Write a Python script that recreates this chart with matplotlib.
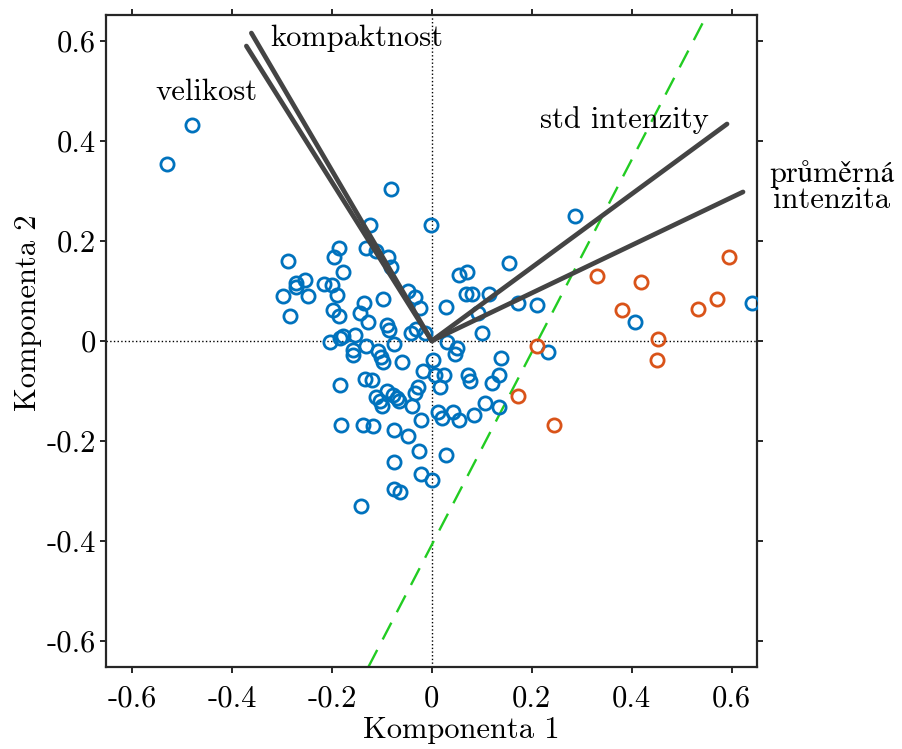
import matplotlib.pyplot as plt
import numpy as np

# PCA scores, class 1 (blue)
comp1_blue = [-0.530, -0.479, -0.082, -0.001, -0.123, -0.185, -0.195, -0.132, -0.112, -0.088,
              -0.082, -0.287, -0.177, -0.253, -0.272, -0.272, -0.215, -0.200, -0.048, -0.297,
              -0.247, -0.189, -0.283, -0.197, -0.185, -0.135, -0.098, -0.143, -0.128, -0.034,
              -0.024, -0.090, -0.085, -0.041, -0.031, -0.013, -0.203, -0.183, -0.177, -0.153,
              -0.157, -0.158, -0.131, -0.107, -0.101, -0.097, -0.075, -0.060, 0.002, -0.017,
              -0.133, -0.120, -0.184, -0.112, -0.103, -0.100, -0.090, -0.077, -0.069, -0.066,
              -0.028, -0.034, -0.040, -0.181, -0.137, -0.117, -0.075, -0.048, -0.022, -0.025,
              -0.075, -0.022, 0.001, -0.075, -0.063, -0.142, 0.055, 0.070, 0.069, 0.081,
              0.115, 0.154, 0.286, 0.029, 0.093, 0.173, 0.210, 0.100, 0.031, 0.051,
              0.047, 0.233, 0.138, 0.007, 0.025, 0.017, 0.073, 0.077, 0.135, 0.120,
              0.107, 0.135, 0.013, 0.021, 0.042, 0.055, 0.085, 0.407, 0.640, 0.028]
comp2_blue = [0.353, 0.432, 0.303, 0.232, 0.232, 0.186, 0.167, 0.185, 0.179, 0.167,
              0.147, 0.159, 0.137, 0.122, 0.115, 0.108, 0.114, 0.111, 0.100, 0.090,
              0.090, 0.091, 0.050, 0.061, 0.050, 0.075, 0.083, 0.055, 0.037, 0.088,
              0.065, 0.032, 0.022, 0.015, 0.023, 0.015, -0.003, 0.005, 0.009, 0.011,
              -0.019, -0.028, -0.011, -0.020, -0.033, -0.043, -0.007, -0.042, -0.038, -0.061,
              -0.076, -0.079, -0.088, -0.113, -0.120, -0.130, -0.101, -0.108, -0.115, -0.121,
              -0.093, -0.105, -0.130, -0.168, -0.168, -0.171, -0.179, -0.191, -0.159, -0.221,
              -0.243, -0.266, -0.278, -0.297, -0.303, -0.331, 0.132, 0.137, 0.094, 0.094,
              0.094, 0.155, 0.250, 0.068, 0.056, 0.075, 0.072, 0.015, -0.003, -0.015,
              -0.026, -0.023, -0.035, -0.068, -0.069, -0.092, -0.068, -0.080, -0.068, -0.084,
              -0.125, -0.132, -0.143, -0.155, -0.143, -0.159, -0.148, 0.037, 0.075, -0.228]

# PCA scores, class 2 (orange)
comp1_orange = [0.331, 0.419, 0.594, 0.571, 0.533, 0.381, 0.453, 0.450, 0.210, 0.173, 0.245]
comp2_orange = [0.129, 0.117, 0.167, 0.083, 0.064, 0.061, 0.003, -0.039, -0.011, -0.111, -0.168]

# loadings
var_names = ['velikost', 'kompaktnost', 'std intenzity', 'průměrná\nintenzita']
load1 = [-0.371, -0.361, 0.591, 0.623]
load2 = [0.590, 0.616, 0.434, 0.298]

# separating line  y = slope * (x - x0)
boundary_slope = 1.926
boundary_x0 = 0.212

ticks = [-0.6, -0.4, -0.2, 0, 0.2, 0.4, 0.6]
tick_labels = ['-0.6', '-0.4', '-0.2', '0', '0.2', '0.4', '0.6']

plt.rcParams['font.family'] = ['cmr10', 'STIXGeneral']
plt.rcParams['axes.unicode_minus'] = False

blue = '#0072BD'
orange = '#D95319'
dark = '#262626'
fs = 22

fig = plt.figure(figsize=(9.02, 7.49), dpi=100)
ax = fig.add_axes([0.1175, 0.1099, 0.7223, 0.870])

ax.axhline(0, color='black', ls=':', lw=1.0, zorder=1)
ax.axvline(0, color='black', ls=':', lw=1.0, zorder=1)

ax.plot(comp1_blue, comp2_blue, 'o', ms=9.5, mfc='none', mec=blue, mew=2.0, zorder=3)
ax.plot(comp1_orange, comp2_orange, 'o', ms=9.5, mfc='none', mec=orange, mew=2.0, zorder=3)

for vx, vy in zip(load1, load2):
    ax.plot([0, vx], [0, vy], color='#444444', lw=3.4, solid_capstyle='round', zorder=4)

ax.axline((boundary_x0, 0), slope=boundary_slope, color='#22CC22', lw=1.7,
          dashes=(8, 5), zorder=2)

# variable labels
label_pos = [(-0.451, 0.498, 'center'), (-0.323, 0.606, 'left'),
             (0.217, 0.442, 'left'), (0.801, 0.308, 'center')]
for name, (tx, ty, ha) in zip(var_names, label_pos):
    ax.text(tx, ty, name, fontsize=fs, ha=ha, va='center', clip_on=False,
            linespacing=0.95)

ax.set_xlim(-0.652, 0.652)
ax.set_ylim(-0.652, 0.652)
ax.set_xticks(ticks)
ax.set_xticklabels(tick_labels)
ax.set_yticks(ticks)
ax.set_yticklabels(tick_labels)
ax.tick_params(direction='out', length=4, width=1.4, color=dark, labelsize=fs,
               top=True, right=True, labelcolor='black')
ax.tick_params(axis='x', pad=9)
ax.tick_params(axis='y', pad=3)
for s in ax.spines.values():
    s.set_linewidth(1.6)
    s.set_color(dark)

ax.set_xlabel('Komponenta 1', fontsize=fs)
ax.set_ylabel('Komponenta 2', fontsize=fs)
ax.xaxis.set_label_coords(0.546, -0.097)
ax.yaxis.set_label_coords(-0.12, 0.543)
ax.xaxis.label.set_va('center')
ax.yaxis.label.set_va('center')

fig.savefig('out.png', dpi=100)
